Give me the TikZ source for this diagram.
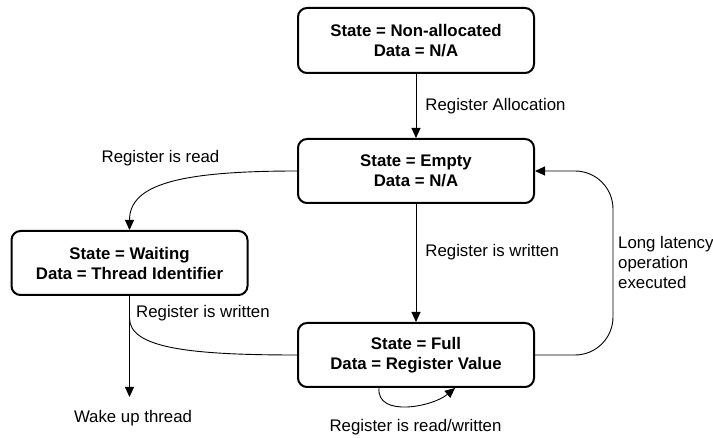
\documentclass[tikz,border=0pt]{standalone}
\usepackage{fontspec}
\setmainfont{Liberation Sans}
\usepackage{tikz}
\usetikzlibrary{arrows.meta}

\tikzset{
  statebox/.style={draw, line width=2pt, rounded corners=9pt, minimum width=236pt, minimum height=64pt, inner sep=0pt, align=center, font=\fontsize{16.8}{20}\selectfont\bfseries},
  lbl/.style={font=\fontsize{16.8}{20}\selectfont, inner sep=2pt},
  arr/.style={line width=0.9pt, -{Triangle[length=10pt,width=9pt]}}
}

\begin{document}
\begin{tikzpicture}[x=1pt,y=1pt]
\useasboundingbox (0,0) rectangle (713,437);
%STATES
\node[statebox, minimum height=65pt] (nonalloc) at (416,396.5) {State = Non-allocated\\Data = N/A};
\node[statebox] (empty) at (416,266) {State = Empty\\Data = N/A};
\node[statebox] (waiting) at (129.5,174) {State = Waiting\\Data = Thread Identifier};
\node[statebox] (full) at (416,82) {State = Full\\Data = Register Value};
%MIDDLE COLUMN
\draw[arr] (nonalloc) -- (empty) node[lbl, midway, anchor=west, xshift=7pt] {Register Allocation};
\draw[arr] (empty) -- (full) node[lbl, pos=0.41, anchor=west, xshift=7pt] {Register is written};
%LEFT
\draw[arr] (empty.west) .. controls +(-120,0) and +(0,45) .. (waiting.north);
\node[lbl] (readlbl) at (160.5,279) {Register is read};
\node[lbl] (wake) at (133,19) {Wake up thread};
\draw[arr] (waiting.south) -- ([yshift=11pt]wake.north -| waiting.south);
\node[lbl, anchor=west] (writtenlbl) at (134,124) {Register is written};
\draw[line width=0.9pt] (full.west) .. controls +(-108,0) and +(0,-30) .. ([yshift=-22pt]waiting.south);
%RIGHT
\draw[arr, rounded corners=38pt] (full.east) -- ++(78,0) |- (empty.east);
\node[lbl, anchor=west, align=left] (latencylbl) at (616,174.5) {Long latency\\operation\\executed};
%LOOP
\draw[arr] ([xshift=-37pt]full.south) to[out=-95,in=-140] ([xshift=39pt]full.south);
\node[lbl] (rwlbl) at (415.5,10) {Register is read/written};
\end{tikzpicture}
\end{document}
